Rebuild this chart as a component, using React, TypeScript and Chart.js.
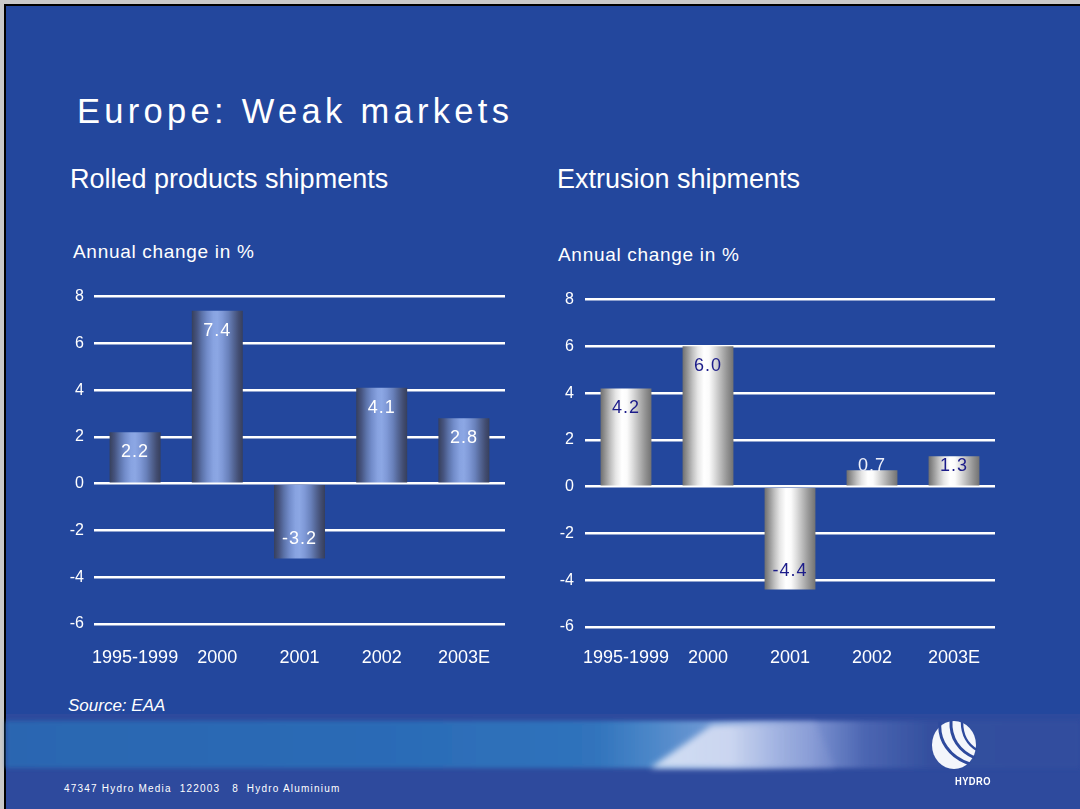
import React, { useEffect, useRef } from "react";
import { Chart, registerables } from "chart.js";

Chart.register(...registerables);

// ---- data ----
const categories = ["1995-1999", "2000", "2001", "2002", "2003E"];
const rolledValues = [2.2, 7.4, -3.2, 4.1, 2.8];
const extrusionValues = [4.2, 6.0, -4.4, 0.7, 1.3];
const yMin = -6;
const yMax = 8;
const yStep = 2;

// ---- styles ----
const FONT = '"Liberation Sans", Arial, Helvetica, sans-serif';
const rolledStops: [number, string][] = [
  [0, "#37405c"], [0.1, "#465480"], [0.2, "#5c73aa"], [0.3, "#728cca"],
  [0.42, "#88a3e1"], [0.5, "#8ca7e4"], [0.6, "#7f99d7"], [0.72, "#6981bb"],
  [0.82, "#546696"], [0.92, "#424d72"], [1, "#373f5c"],
];
const extrusionStops: [number, string][] = [
  [0, "#6f6f6f"], [0.1, "#989898"], [0.2, "#c2c2c2"], [0.3, "#e6e6e6"],
  [0.42, "#ffffff"], [0.52, "#fbfbfb"], [0.62, "#e0e0e0"], [0.74, "#bcbcbc"],
  [0.86, "#989898"], [1, "#727272"],
];
const rolledLabelColors = ["#ffffff", "#ffffff", "#ffffff", "#ffffff", "#ffffff"];
const extrusionLabelColors = ["#1c1c8a", "#1c1c8a", "#1c1c8a", "#eef0fa", "#1c1c8a"];

const valueLabelPlugin = {
  id: "valueLabels",
  afterDatasetsDraw(chart: any, _args: any, opts: any) {
    const { ctx } = chart;
    const meta = chart.getDatasetMeta(0);
    const data = chart.data.datasets[0].data as number[];
    ctx.save();
    ctx.font = `18px ${FONT}`;
    ctx.textAlign = "center";
    ctx.textBaseline = "middle";
    try { (ctx as any).letterSpacing = "1px"; } catch (e) {}
    meta.data.forEach((el: any, i: number) => {
      const v = data[i];
      const { x, y, base } = el.getProps(["x", "y", "base"], true);
      const cy = v >= 0 ? Math.min(y + 20, base - 19) : Math.max(y - 19, base + 19);
      ctx.fillStyle = opts.colors[i];
      ctx.fillText(v.toFixed(1), x, cy);
    });
    ctx.restore();
  },
};

type ChartProps = {
  values: number[];
  stops: [number, string][];
  labelColors: string[];
  left: number;
  top: number;
  width: number;
  height: number;
  yAxisWidth: number;
  yTickPad: number;
  xTickPad: number;
};

function BarChart(p: ChartProps) {
  const ref = useRef<HTMLCanvasElement | null>(null);
  useEffect(() => {
    if (!ref.current) return;
    const barPct = 0.62;
    const chart = new Chart(ref.current, {
      type: "bar",
      data: {
        labels: categories,
        datasets: [
          {
            data: p.values,
            barPercentage: barPct,
            categoryPercentage: 1,
            borderWidth: 0,
            backgroundColor: (c: any) => {
              const fallback = p.stops[4][1];
              if (c.type !== "data") return fallback;
              const xs = c.chart.scales && c.chart.scales.x;
              if (!xs || !xs.width) return fallback;
              const cx = xs.getPixelForValue(c.dataIndex);
              const w = (xs.width / categories.length) * barPct;
              const g = c.chart.ctx.createLinearGradient(cx - w / 2, 0, cx + w / 2, 0);
              p.stops.forEach(([o, col]) => g.addColorStop(o, col));
              return g;
            },
          },
        ],
      },
      options: {
        responsive: false,
        animation: false,
        layout: { padding: { top: 2, right: 10, left: 0, bottom: 0 } },
        plugins: {
          legend: { display: false },
          tooltip: { enabled: false },
          title: { display: false },
          valueLabels: { colors: p.labelColors },
        } as any,
        scales: {
          x: {
            grid: { display: false, drawTicks: false },
            border: { display: false },
            ticks: {
              color: "#ffffff",
              font: { family: FONT, size: 18 },
              padding: p.xTickPad,
              maxRotation: 0,
              autoSkip: false,
            },
            afterFit: (s: any) => { s.height = 50; },
          },
          y: {
            min: yMin,
            max: yMax,
            grid: { color: "#ffffff", lineWidth: 2.5, drawTicks: false },
            border: { display: false },
            ticks: {
              stepSize: yStep,
              color: "#ffffff",
              font: { family: FONT, size: 16 },
              padding: p.yTickPad,
            },
            afterFit: (s: any) => { s.width = p.yAxisWidth; },
          },
        },
      },
      plugins: [valueLabelPlugin],
    });
    return () => chart.destroy();
  }, []);
  return (
    <canvas
      ref={ref}
      width={p.width}
      height={p.height}
      style={{ position: "absolute", left: p.left, top: p.top, width: p.width, height: p.height }}
    />
  );
}

const txt = (extra: React.CSSProperties): React.CSSProperties => ({
  position: "absolute",
  color: "#ffffff",
  fontFamily: FONT,
  whiteSpace: "pre",
  margin: 0,
  ...extra,
});

export default function App() {
  return (
    <div
      style={{
        position: "fixed",
        left: 0,
        top: 0,
        width: 1080,
        height: 809,
        overflow: "hidden",
        background: "#c9c9c9",
      }}
    >
      <div
        style={{
          position: "absolute",
          left: 4,
          top: 4,
          width: 1076,
          height: 805,
          boxSizing: "border-box",
          borderTop: "2px solid #000",
          borderLeft: "2px solid #000",
          background: "#23479d",
        }}
      />
      <svg
        width={1080}
        height={809}
        style={{ position: "absolute", left: 0, top: 0 }}
      >
        <defs>
          <linearGradient id="band" x1="0" y1="0" x2="1080" y2="0" gradientUnits="userSpaceOnUse">
            <stop offset="0" stopColor="#2a66b1" />
            <stop offset="0.35" stopColor="#2b6bb6" />
            <stop offset="0.55" stopColor="#3073bc" />
            <stop offset="0.6" stopColor="#4a86c8" />
            <stop offset="0.7" stopColor="#8aa6dc" />
            <stop offset="0.75" stopColor="#7f95d2" />
            <stop offset="0.8" stopColor="#4c66b2" />
            <stop offset="0.86" stopColor="#34509f" />
            <stop offset="1" stopColor="#304d9e" />
          </linearGradient>
          <linearGradient id="streak" x1="650" y1="0" x2="830" y2="0" gradientUnits="userSpaceOnUse">
            <stop offset="0" stopColor="#dfe8f8" />
            <stop offset="0.45" stopColor="#d4dcf3" />
            <stop offset="1" stopColor="#8e9fd8" stopOpacity="0.3" />
          </linearGradient>
          <filter id="blur2" x="-5%" y="-50%" width="110%" height="200%">
            <feGaussianBlur stdDeviation="2" />
          </filter>
          <filter id="blur3" x="-20%" y="-50%" width="140%" height="200%">
            <feGaussianBlur stdDeviation="3" />
          </filter>
        </defs>
        <rect x={6} y={714} width={1074} height={95} fill="#2e4a9d" />
        <rect x={6} y={721} width={1074} height={47} fill="url(#band)" filter="url(#blur2)" />
        <polygon
          points="650,768 712,725 815,722 835,768"
          fill="url(#streak)"
          filter="url(#blur3)"
          opacity={0.9}
        />
        {/* Hydro logo */}
        <ellipse cx={954} cy={745} rx={22} ry={24} fill="#f4f6fb" />
        <path d="M940 722 C938 740 949 757 970 764" stroke="#2e4a9d" strokeWidth={3} fill="none" />
        <path d="M951 721 C950 738 959 751 975 758" stroke="#2e4a9d" strokeWidth={3} fill="none" />
        <path d="M962 722 C962 735 968 745 977 750" stroke="#2e4a9d" strokeWidth={2.5} fill="none" />
      </svg>

      <div style={txt({ left: 77, top: 93.5, fontSize: 34.5, lineHeight: "34.5px", letterSpacing: "4.3px" })}>
        Europe: Weak markets
      </div>
      <div style={txt({ left: 70, top: 166.4, fontSize: 27, lineHeight: "27px" })}>
        Rolled products shipments
      </div>
      <div style={txt({ left: 557, top: 166.4, fontSize: 27, lineHeight: "27px" })}>
        Extrusion shipments
      </div>
      <div style={txt({ left: 73, top: 242.2, fontSize: 19, lineHeight: "19px", letterSpacing: "0.7px" })}>
        Annual change in %
      </div>
      <div style={txt({ left: 558, top: 245, fontSize: 19, lineHeight: "19px", letterSpacing: "0.7px" })}>
        Annual change in %
      </div>

      <BarChart
        values={rolledValues}
        stops={rolledStops}
        labelColors={rolledLabelColors}
        left={60}
        top={277}
        width={455}
        height={397}
        yAxisWidth={34}
        yTickPad={10}
        xTickPad={23}
      />
      <BarChart
        values={extrusionValues}
        stops={extrusionStops}
        labelColors={extrusionLabelColors}
        left={550}
        top={279}
        width={455}
        height={398}
        yAxisWidth={35}
        yTickPad={11}
        xTickPad={20}
      />

      <div style={txt({ left: 68, top: 697.3, fontSize: 17, lineHeight: "17px", fontStyle: "italic" })}>
        Source: EAA
      </div>
      <div style={txt({ left: 64, top: 784, fontSize: 10, lineHeight: "10px", letterSpacing: "1.2px" })}>
        {"47347 Hydro Media  122003   8  Hydro Aluminium"}
      </div>
      <div
        style={txt({
          left: 955,
          top: 776,
          fontSize: 11,
          lineHeight: "11px",
          fontWeight: "bold",
          letterSpacing: "0.5px",
          transform: "scaleX(0.85)",
          transformOrigin: "left",
        })}
      >
        HYDRO
      </div>
    </div>
  );
}
